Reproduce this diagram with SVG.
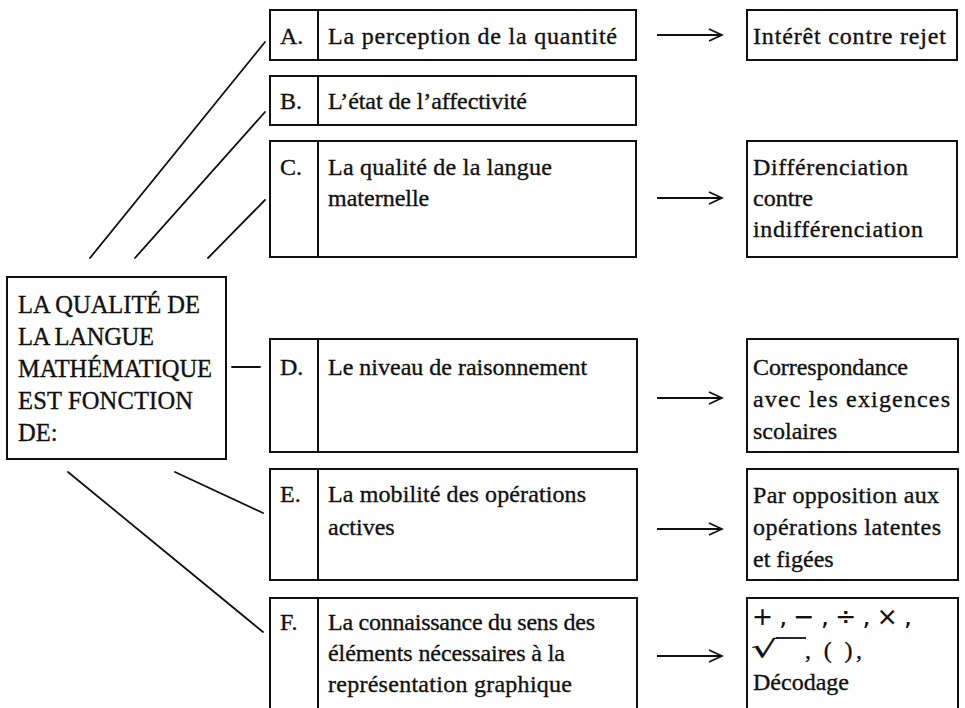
<svg xmlns="http://www.w3.org/2000/svg" width="965" height="708" viewBox="0 0 965 708">
<defs>
<style>
.box{fill:#fff;stroke:#111;stroke-width:2}
.div{stroke:#111;stroke-width:2}
.con{stroke:#111;stroke-width:1.8;fill:none;stroke-linecap:round}
.arr{stroke:#111;stroke-width:1.8;fill:none}
text{font-family:"Liberation Serif","Times New Roman",serif;font-size:24px;fill:#111;stroke:#111;stroke-width:0.35}
.cap{font-size:24.5px}
.sym{font-family:"DejaVu Sans","Liberation Sans",sans-serif;font-size:25px;stroke-width:0.2}
.rad{font-family:"DejaVu Sans","Liberation Sans",sans-serif;font-size:24px;stroke-width:0.2}
</style>
<marker id="ah" markerWidth="16" markerHeight="14" refX="14" refY="7" orient="auto" markerUnits="userSpaceOnUse">
<path d="M1,1 L14,7 L1,13" fill="none" stroke="#111" stroke-width="1.8"/>
</marker>
</defs>
<rect width="965" height="708" fill="#fff"/>

<g id="connectors">
<line class="con" x1="90" y1="258" x2="265" y2="42"/>
<line class="con" x1="135" y1="258" x2="265" y2="112"/>
<line class="con" x1="208" y1="258" x2="265" y2="200"/>
<line class="con" x1="232" y1="367" x2="260" y2="367"/>
<line class="con" x1="175" y1="472" x2="263" y2="513"/>
<line class="con" x1="68" y1="472" x2="263" y2="632"/>
<line class="arr" x1="657" y1="35" x2="722" y2="35" marker-end="url(#ah)"/>
<line class="arr" x1="657" y1="198" x2="722" y2="198" marker-end="url(#ah)"/>
<line class="arr" x1="657" y1="398" x2="722" y2="398" marker-end="url(#ah)"/>
<line class="arr" x1="657" y1="529" x2="722" y2="529" marker-end="url(#ah)"/>
<line class="arr" x1="657" y1="656" x2="722" y2="656" marker-end="url(#ah)"/>
</g>

<g id="main">
<rect class="box" x="7" y="277" width="219" height="182"/>
<text class="cap" x="18" y="313" textLength="182" lengthAdjust="spacing">LA QUALITÉ DE</text>
<text class="cap" x="18" y="345" textLength="136" lengthAdjust="spacing">LA LANGUE</text>
<text class="cap" x="18" y="377" textLength="194" lengthAdjust="spacing">MATHÉMATIQUE</text>
<text class="cap" x="18" y="409" textLength="175" lengthAdjust="spacing">EST FONCTION</text>
<text class="cap" x="18" y="441">DE:</text>
</g>

<g id="nodeA">
<rect class="box" x="270" y="10" width="366" height="50"/>
<line class="div" x1="318" y1="10" x2="318" y2="60"/>
<text x="280" y="44">A.</text>
<text x="328" y="44" textLength="289" lengthAdjust="spacing">La perception de la quantité</text>
</g>
<g id="resultA">
<rect class="box" x="747" y="10" width="210" height="50"/>
<text x="753" y="44" textLength="193" lengthAdjust="spacing">Intérêt contre rejet</text>
</g>

<g id="nodeB">
<rect class="box" x="270" y="76" width="366" height="49"/>
<line class="div" x1="318" y1="76" x2="318" y2="125"/>
<text x="280" y="109">B.</text>
<text x="328" y="109" textLength="199" lengthAdjust="spacing">L’état de l’affectivité</text>
</g>

<g id="nodeC">
<rect class="box" x="270" y="141" width="366" height="116"/>
<line class="div" x1="318" y1="141" x2="318" y2="257"/>
<text x="280" y="175">C.</text>
<text x="328" y="175" textLength="224" lengthAdjust="spacing">La qualité de la langue</text>
<text x="328" y="206">maternelle</text>
</g>
<g id="resultC">
<rect class="box" x="747" y="141" width="210" height="116"/>
<text x="753" y="175" textLength="155" lengthAdjust="spacing">Différenciation</text>
<text x="753" y="206">contre</text>
<text x="753" y="237" textLength="170" lengthAdjust="spacing">indifférenciation</text>
</g>

<g id="nodeD">
<rect class="box" x="270" y="339" width="367" height="113"/>
<line class="div" x1="318" y1="339" x2="318" y2="452"/>
<text x="280" y="375">D.</text>
<text x="328" y="375">Le niveau de raisonnement</text>
</g>
<g id="resultD">
<rect class="box" x="747" y="339" width="211" height="113"/>
<text x="753" y="375" textLength="155" lengthAdjust="spacing">Correspondance</text>
<text x="753" y="407" textLength="197" lengthAdjust="spacing">avec les exigences</text>
<text x="753" y="439">scolaires</text>
</g>

<g id="nodeE">
<rect class="box" x="270" y="469" width="367" height="111"/>
<line class="div" x1="318" y1="469" x2="318" y2="580"/>
<text x="280" y="502">E.</text>
<text x="328" y="502" textLength="258" lengthAdjust="spacing">La mobilité des opérations</text>
<text x="328" y="535">actives</text>
</g>
<g id="resultE">
<rect class="box" x="747" y="469" width="211" height="111"/>
<text x="753" y="503" textLength="186" lengthAdjust="spacing">Par opposition aux</text>
<text x="753" y="535" textLength="188" lengthAdjust="spacing">opérations latentes</text>
<text x="753" y="567">et figées</text>
</g>

<g id="nodeF">
<rect class="box" x="270" y="598" width="367" height="115"/>
<line class="div" x1="318" y1="598" x2="318" y2="713"/>
<text x="280" y="630">F.</text>
<text x="328" y="630" textLength="267" lengthAdjust="spacing">La connaissance du sens des</text>
<text x="328" y="661" textLength="237" lengthAdjust="spacing">éléments nécessaires à la</text>
<text x="328" y="692" textLength="244" lengthAdjust="spacing">représentation graphique</text>
</g>
<g id="resultF">
<rect class="box" x="747" y="598" width="211" height="115"/>
<text class="sym" x="752" y="625" textLength="160" lengthAdjust="spacing">+ , − , ÷ , × ,</text>
<text class="rad" transform="translate(751,657) scale(1.7,1)" x="0" y="0">√</text>
<line x1="776" y1="638" x2="806" y2="638" stroke="#111" stroke-width="1.8"/>
<text x="805" y="658" textLength="57" lengthAdjust="spacing">, (   ),</text>
<text x="753" y="690" textLength="96" lengthAdjust="spacing">Décodage</text>
</g>
</svg>
